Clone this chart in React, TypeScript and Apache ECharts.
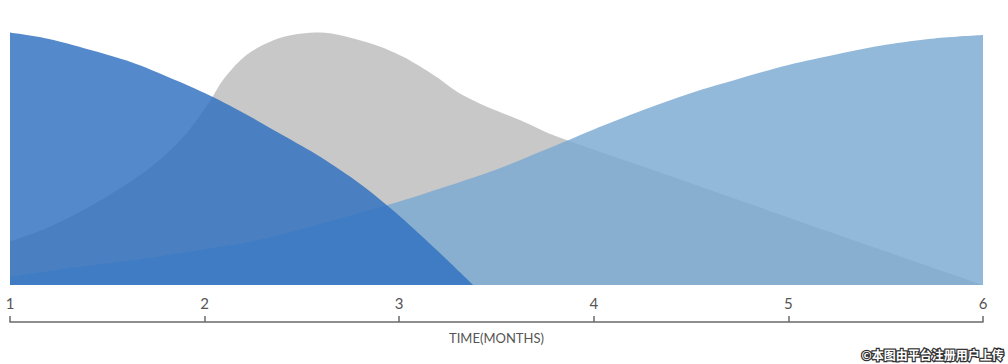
import React, { useEffect, useRef } from "react";
import * as echarts from "echarts";

const greyX = [1, 1.21, 1.46, 1.72, 1.89, 2.03, 2.1, 2.22, 2.39, 2.59, 2.85, 3.02, 3.19, 3.31, 3.45, 3.62, 3.81, 4.5, 5, 5.5, 6];
const greyValues = [17, 23, 33, 46, 58, 72.5, 81, 90.5, 97, 99, 94.8, 89.5, 81.7, 75.2, 69.9, 64.7, 58.2, 39.9, 26.5, 13.2, 0];

const lightBlueX = [1, 1.25, 1.5, 1.75, 2, 2.25, 2.5, 2.75, 3, 3.25, 3.5, 3.75, 4, 4.25, 4.5, 4.75, 5, 5.25, 5.5, 5.75, 6];
const lightBlueValues = [3.3, 6, 8.5, 11, 14, 17.2, 22, 27.3, 32.7, 38.8, 45.3, 53, 61, 68.5, 75.3, 81, 86.3, 90.5, 94.2, 96.7, 98];

const darkBlueX = [1, 1.2, 1.4, 1.6, 1.8, 2, 2.2, 2.4, 2.6, 2.8, 3, 3.2, 3.38];
const darkBlueValues = [99, 96.5, 92.5, 88, 82, 75.3, 67.5, 58.8, 50, 39.6, 27.2, 13.2, 0];

const xTicks = [1, 2, 3, 4, 5, 6];

export default function App() {
  const ref = useRef<HTMLDivElement>(null);
  useEffect(() => {
    if (!ref.current) return;
    const chart = echarts.init(ref.current, null, { renderer: "svg" });
    const pair = (xs: number[], ys: number[]) => xs.map((x, i) => [x, ys[i]]);
    chart.setOption({
      animation: false,
      grid: { left: 10, right: 25, top: 30, bottom: 79 },
      xAxis: {
        type: "value",
        min: xTicks[0],
        max: xTicks[xTicks.length - 1],
        interval: 1,
        offset: 37,
        name: "TIME(MONTHS)",
        nameLocation: "middle",
        nameGap: 9,
        nameTextStyle: { color: "#555", fontSize: 13, fontFamily: "Lato" },
        axisLine: { show: true, onZero: false, lineStyle: { color: "#6a6a6a", width: 1.5 } },
        axisTick: { show: true, inside: true, length: 6, lineStyle: { color: "#6a6a6a", width: 1.5 } },
        axisLabel: { inside: true, margin: 12, color: "#555", fontSize: 15, fontFamily: "Lato" },
        splitLine: { show: false },
      },
      yAxis: {
        type: "value",
        min: 0,
        max: 100,
        show: false,
      },
      series: [
        {
          name: "grey",
          type: "line",
          smooth: 0.3,
          symbol: "none",
          lineStyle: { width: 0 },
          areaStyle: { color: "#c8c8c8", opacity: 1 },
          data: pair(greyX, greyValues),
        },
        {
          name: "light",
          type: "line",
          smooth: 0.3,
          symbol: "none",
          lineStyle: { width: 0 },
          areaStyle: { color: "#7baad2", opacity: 0.82 },
          data: pair(lightBlueX, lightBlueValues),
        },
        {
          name: "dark",
          type: "line",
          smooth: 0.3,
          symbol: "none",
          lineStyle: { width: 0 },
          areaStyle: { color: "#2e70c0", opacity: 0.82 },
          data: pair(darkBlueX, darkBlueValues),
        },
      ],
      graphic: [
        {
          type: "text",
          right: 3,
          bottom: 2,
          style: {
            text: "©本图由平台注册用户上传",
            fill: "#fff",
            stroke: "#333",
            lineWidth: 2.5,
            fontSize: 12,
            fontWeight: "bold",
            fontFamily: "Noto Sans CJK SC",
          },
        },
      ],
    });
    return () => chart.dispose();
  }, []);
  return (
    <div
      ref={ref}
      style={{ position: "fixed", left: 0, top: 0, width: 1008, height: 364, background: "#fff" }}
    />
  );
}
